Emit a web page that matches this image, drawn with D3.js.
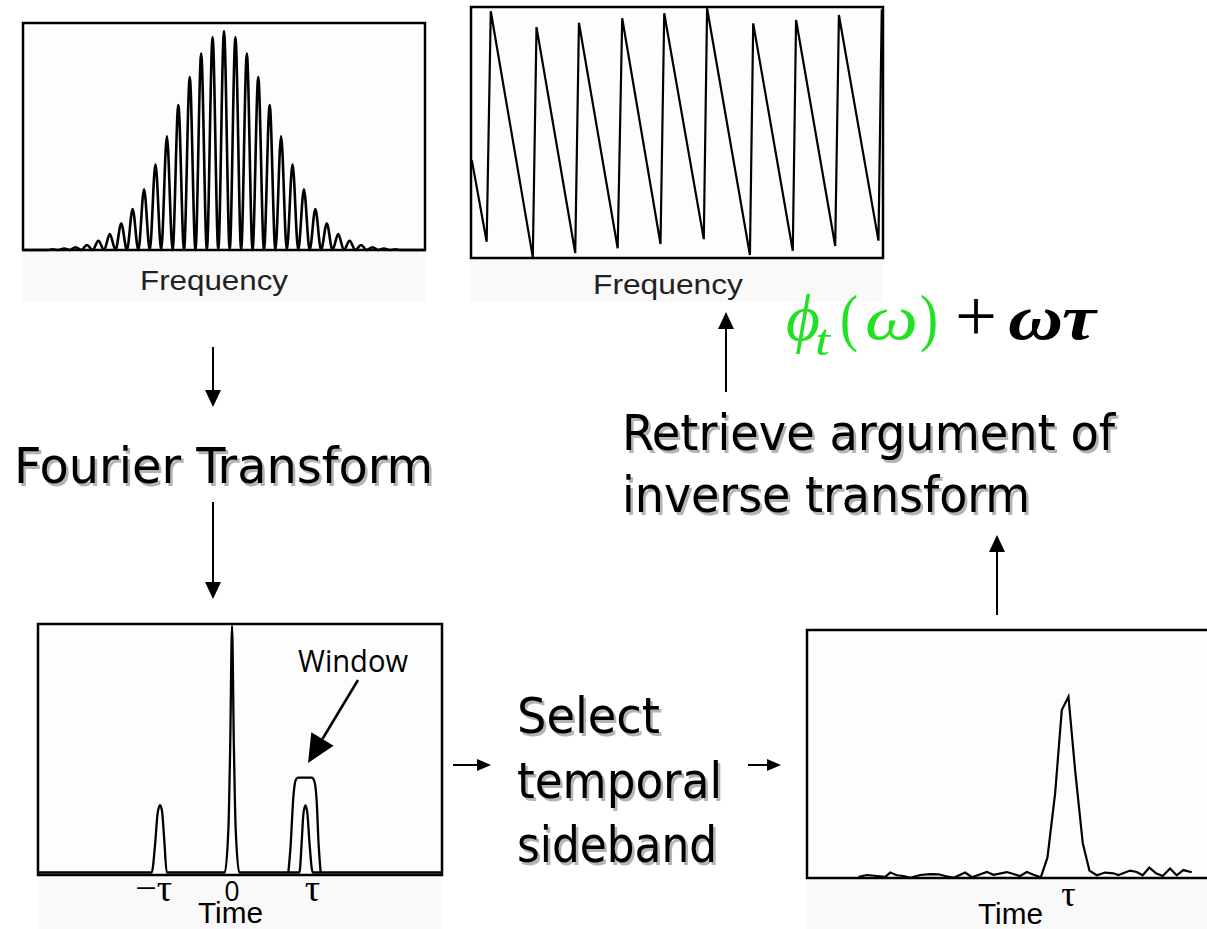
<!DOCTYPE html>
<html>
<head>
<meta charset="utf-8">
<script src="https://cdn.jsdelivr.net/npm/d3@7"></script>
<style>
  body { margin: 0; background: #fff; }
  svg { display: block; }
</style>
</head>
<body>
<div id="chart"></div>
<script>
// ---- data ----
// spectral fringes: fringe order and peak height (0..1 of panel height)
var fringeOrder = [-15,-14,-13,-12,-11,-10,-9,-8,-7,-6,-5,-4,-3,-2,-1,0,1,2,3,4,5,6,7,8,9,10,11,12,13,14,15];
var fringePeak  = [0.003,0.006,0.012,0.022,0.041,0.070,0.117,0.180,0.267,0.378,0.501,0.638,0.762,0.865,0.938,0.965,
                   0.938,0.865,0.762,0.638,0.501,0.378,0.267,0.180,0.117,0.070,0.041,0.022,0.012,0.006,0.003];

// spectral phase (wrapped sawtooth)
var phaseFreq = [0.2,3.8,4.8,15.0,15.9,25.3,26.2,35.6,36.7,46.0,46.9,56.5,57.3,67.7,68.5,78.1,78.9,88.4,89.3,98.9,99.7];
var phaseVal  = [0.39,0.065,0.983,0.003,0.92,0.02,0.937,0.039,0.955,0.056,0.975,0.075,0.995,0.012,0.935,0.029,0.948,0.048,0.968,0.069,0.99];

// Fourier transform (time domain), tau = 1
var ftTime = [-2.68,-1.11,-1.063,-1.027,-0.994,-0.967,-0.935,-0.902,-0.10,-0.05,-0.025,0,0.025,0.05,0.10,
              0.93,0.963,0.985,1.013,1.04,1.068,1.114,2.9];
var ftAmp  = [0,0,0.113,0.242,0.273,0.249,0.127,0,0,0.18,0.52,1.0,0.52,0.18,0,
              0,0.127,0.236,0.272,0.242,0.127,0,0];

// filter window around +tau
var winTime = [0.778,0.81,0.846,0.883,0.915,1.10,1.137,1.169,1.196,1.224];
var winAmp  = [0,0.113,0.303,0.378,0.385,0.385,0.371,0.29,0.113,0];

// selected sideband
var sbTime = [20.5,23,26,28.5,30,32,34,36,39,42,44.5,46.5,49,52.5,54.5,59,61,65,69,71,73,75.2,77.2,79.5,81.5,83.5,
              85.5,87.8,89.8,92,94.5,97,98.5,102,104,105.8,107.8,109.8,111.8,114,116,118,120.5];
var sbAmp  = [0.005,0.012,0.008,0.005,0.022,0.011,0.008,0.001,0.012,0.016,0.015,0.008,0.001,0.022,0.003,0.024,0.013,
              0.024,0.008,0.024,0.013,0.003,0.083,0.341,0.677,0.731,0.435,0.140,0.030,0.011,0.022,0.019,0.012,0.030,
              0.024,0.011,0.042,0.019,0.008,0.038,0.011,0.032,0.023];

var ftTicks = [{t: -1, label: "\u2212\u03c4"}, {t: 0, label: "0"}, {t: 1, label: "\u03c4"}];

var W = 1207, H = 929;
var svg = d3.select("#chart").append("svg")
  .attr("width", W)
  .attr("height", H);

var sansLabel = "'Liberation Sans', Arial, sans-serif";
var myriad = "'Open Sans', 'Liberation Sans', sans-serif";
var tahoma = "'DejaVu Sans Condensed', 'DejaVu Sans', sans-serif";
var serif = "'Liberation Serif', 'Times New Roman', serif";

function zip(xs, ys) {
  return xs.map(function(x, i) { return [x, ys[i]]; });
}

function panelBg(x0, y0, x1, y1) {
  svg.append("rect")
    .attr("x", x0).attr("y", y0)
    .attr("width", x1 - x0).attr("height", y1 - y0)
    .attr("fill", "#f9f9f9");
}

function box(x0, y0, x1, y1) {
  svg.append("rect")
    .attr("x", x0).attr("y", y0)
    .attr("width", x1 - x0).attr("height", y1 - y0)
    .attr("fill", "#fdfdfd")
    .attr("stroke", "#000")
    .attr("stroke-width", 2.5);
}

function arrow(x1, y1, x2, y2, len, wid, sw) {
  var dx = x2 - x1, dy = y2 - y1;
  var L = Math.sqrt(dx * dx + dy * dy);
  var ux = dx / L, uy = dy / L;
  var bx = x2 - ux * len, by = y2 - uy * len;
  svg.append("line")
    .attr("x1", x1).attr("y1", y1)
    .attr("x2", bx).attr("y2", by)
    .attr("stroke", "#000")
    .attr("stroke-width", sw || 2);
  svg.append("path")
    .attr("d", "M" + x2 + "," + y2 +
      "L" + (bx - uy * wid / 2) + "," + (by + ux * wid / 2) +
      "L" + (bx + uy * wid / 2) + "," + (by - ux * wid / 2) + "Z")
    .attr("fill", "#000");
}

function shadowText(str, x, y, size, len) {
  [["#b4b4b4", 2.5], ["#000", 0]].forEach(function(s) {
    svg.append("text")
      .attr("x", x + s[1]).attr("y", y + s[1])
      .attr("font-family", tahoma)
      .attr("font-size", size)
      .attr("fill", s[0])
      .attr("textLength", len)
      .attr("lengthAdjust", "spacingAndGlyphs")
      .text(str);
  });
}

function label(str, x, y, family, size, len, extra) {
  var t = svg.append("text")
    .attr("x", x).attr("y", y)
    .attr("font-family", family)
    .attr("font-size", size)
    .text(str);
  if (len) t.attr("textLength", len).attr("lengthAdjust", "spacingAndGlyphs");
  if (extra) extra(t);
  return t;
}

// ---- panel 1: spectral fringes ----
panelBg(23, 250, 425, 302);
box(23, 23, 425, 250);
var x1 = d3.scaleLinear().domain([-17.6, 17.6]).range([23, 425]);
var y1 = d3.scaleLinear().domain([0, 1]).range([250, 23]);
var fringePts = [[-17.6, 0]];
fringeOrder.forEach(function(k, i) {
  fringePts.push([k - 0.5, 0]);
  fringePts.push([k, fringePeak[i]]);
});
fringePts.push([fringeOrder[fringeOrder.length - 1] + 0.5, 0]);
fringePts.push([17.6, 0]);
svg.append("path")
  .datum(fringePts)
  .attr("fill", "none")
  .attr("stroke", "#000")
  .attr("stroke-width", 2.6)
  .attr("d", d3.line()
    .x(function(d) { return x1(d[0]); })
    .y(function(d) { return y1(d[1]); })
    .curve(d3.curveMonotoneX));
label("Frequency", 140, 290, sansLabel, 28, 148).attr("fill", "#222");

// ---- panel 2: spectral phase ----
panelBg(471, 258, 883, 302);
box(471, 7, 883, 258);
var x2 = d3.scaleLinear().domain([0, 100]).range([471, 883]);
var y2 = d3.scaleLinear().domain([0, 1]).range([258, 7]);
svg.append("path")
  .datum(zip(phaseFreq, phaseVal))
  .attr("fill", "none")
  .attr("stroke", "#000")
  .attr("stroke-width", 2.2)
  .attr("d", d3.line()
    .x(function(d) { return x2(d[0]); })
    .y(function(d) { return y2(d[1]); }));
label("Frequency", 593, 294, sansLabel, 28, 150).attr("fill", "#222");

// ---- panel 3: Fourier transform with window ----
panelBg(38, 875, 442, 929);
box(38, 624, 442, 875);
var x3 = d3.scaleLinear().domain([-2.68, 2.9]).range([38, 442]);
var y3 = d3.scaleLinear().domain([0, 1]).range([872.5, 626]);
var line3 = d3.line()
  .x(function(d) { return x3(d[0]); })
  .y(function(d) { return y3(d[1]); })
  .curve(d3.curveMonotoneX);
svg.append("path")
  .datum(zip(ftTime, ftAmp))
  .attr("fill", "none")
  .attr("stroke", "#000")
  .attr("stroke-width", 2.3)
  .attr("d", line3);
svg.append("path")
  .datum(zip(winTime, winAmp))
  .attr("fill", "none")
  .attr("stroke", "#000")
  .attr("stroke-width", 2.3)
  .attr("d", line3);
svg.selectAll("text.ftTick")
  .data(ftTicks)
  .enter()
  .append("text")
  .attr("class", "ftTick")
  .attr("x", function(d) { return x3(d.t) + (d.t < 0 ? -6 : d.t > 0 ? 8 : 0); })
  .attr("y", 901)
  .attr("text-anchor", "middle")
  .attr("font-family", function(d) { return d.t === 0 ? myriad : serif; })
  .attr("font-size", function(d) { return d.t === 0 ? 27 : 38; })
  .text(function(d) { return d.label; });
label("Time", 198, 923, sansLabel, 30, 65);
label("Window", 298, 672, myriad, 31, 110);
arrow(358, 680, 308, 763, 28, 26, 2.5);

// ---- panel 4: selected sideband ----
panelBg(807, 878, 1207, 929);
svg.append("rect")
  .attr("x", 807).attr("y", 630)
  .attr("width", 420).attr("height", 248)
  .attr("fill", "#fdfdfd")
  .attr("stroke", "#000")
  .attr("stroke-width", 2.5);
var x4 = d3.scaleLinear().domain([5, 125.1]).range([807, 1207]);
var y4 = d3.scaleLinear().domain([0, 1]).range([878, 630]);
svg.append("path")
  .datum(zip(sbTime, sbAmp))
  .attr("fill", "none")
  .attr("stroke", "#000")
  .attr("stroke-width", 2.2)
  .attr("d", d3.line()
    .x(function(d) { return x4(d[0]); })
    .y(function(d) { return y4(d[1]); }));
label("\u03c4", x4(83.5), 906, serif, 36).attr("text-anchor", "middle");
label("Time", 978, 924, sansLabel, 30, 65);

// ---- flow text and arrows ----
arrow(213, 347, 213, 407, 17, 16, 2);
shadowText("Fourier Transform", 14, 483, 50, 419);
arrow(213, 502, 213, 599, 17, 16, 2);

arrow(453, 765, 491, 765, 14, 12, 2);
shadowText("Select", 517, 733, 50, 143);
shadowText("temporal", 517, 798, 50, 205);
shadowText("sideband", 517, 862, 50, 200);
arrow(748, 765, 781, 765, 14, 12, 2);

arrow(997, 615, 997, 535, 17, 16, 2);
shadowText("Retrieve argument of", 622, 450, 50, 493);
shadowText("inverse transform", 622, 512, 50, 408);
arrow(726, 392, 726, 312, 17, 16, 2);

// ---- formula: phi_t(omega) + omega tau ----
var green = "#22e022";
function italic(t) { t.attr("font-style", "italic"); }
label("\u03d5", 786, 340, serif, 66, 34, italic).attr("fill", green);
label("t", 815, 355, serif, 44, 15, italic).attr("fill", green);
label("(", 840, 339, serif, 64, 18).attr("fill", green);
label("\u03c9", 865, 339, serif, 64, 53, italic).attr("fill", green);
label(")", 920, 339, serif, 64, 18).attr("fill", green);
label("+", 955, 341, serif, 74, 42);
label("\u03c9\u03c4", 1008, 339, serif, 64, 88, italic).attr("font-weight", "bold");
</script>
</body>
</html>
